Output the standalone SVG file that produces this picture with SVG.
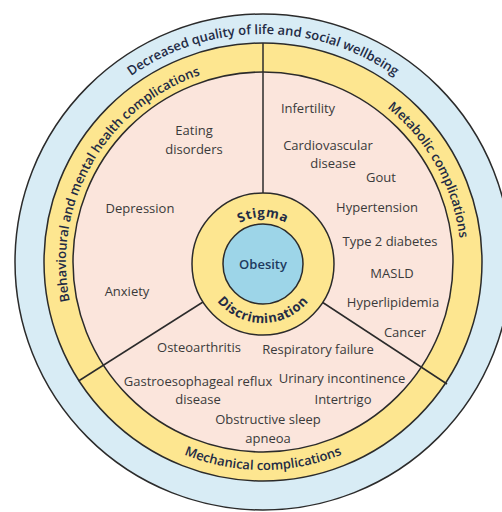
<svg xmlns="http://www.w3.org/2000/svg" width="502" height="512" viewBox="0 0 502 512">
<style>
.edge{stroke:#2b2b2b;stroke-width:1.5}
.lbl{font-family:"Open Sans","Noto Sans",sans-serif;font-size:13px;fill:#3a3a3a;text-anchor:middle}
.band{font-family:"Open Sans","Noto Sans",sans-serif;font-size:13px;font-weight:600;fill:#232b45;text-anchor:middle}
.ring{font-family:"Open Sans","Noto Sans",sans-serif;font-size:13px;font-weight:700;fill:#232b45;text-anchor:middle;letter-spacing:0.6px}
</style>
<defs>
<path id="pOuter" d="M35,262 A228,228 0 0 1 491,262"/>
<path id="pBeh" d="M164,433.47 A198,198 0 0 1 362,90.53"/>
<path id="pMet" d="M167,88.8 A198,198 0 0 1 359,435.2"/>
<path id="pMech" d="M55,262 A208,208 0 0 0 471,262"/>
<path id="pStig" d="M216,264 A47,47 0 0 1 310,264"/>
<path id="pDisc" d="M204,264 A59,59 0 0 0 322,264"/>
</defs>
<rect width="502" height="512" fill="#ffffff"/>
<g id="quality-of-life">
<circle cx="263" cy="262" r="248" fill="#d8ecf5" class="edge"/>
<text class="band"><textPath href="#pOuter" startOffset="50%">Decreased quality of life and social wellbeing</textPath></text>
</g>
<g id="complication-bands">
<circle cx="263" cy="262" r="219" fill="#fde690" class="edge"/>
<circle cx="263" cy="262" r="190" fill="#fbe5dc" class="edge"/>
</g>
<g id="behavioural">
<text class="band"><textPath href="#pBeh" startOffset="50%">Behavioural and mental health complications</textPath></text>
<text class="lbl" x="194" y="135">Eating</text>
<text class="lbl" x="194" y="154">disorders</text>
<text class="lbl" x="140" y="213">Depression</text>
<text class="lbl" x="127" y="296">Anxiety</text>
</g>
<g id="metabolic">
<text class="band"><textPath href="#pMet" startOffset="50%">Metabolic complications</textPath></text>
<text class="lbl" x="308" y="113">Infertility</text>
<text class="lbl" x="328" y="150">Cardiovascular</text>
<text class="lbl" x="333" y="168">disease</text>
<text class="lbl" x="381" y="182">Gout</text>
<text class="lbl" x="377" y="212">Hypertension</text>
<text class="lbl" x="390" y="246">Type 2 diabetes</text>
<text class="lbl" x="392" y="278">MASLD</text>
<text class="lbl" x="393" y="307">Hyperlipidemia</text>
<text class="lbl" x="405" y="337">Cancer</text>
</g>
<g id="mechanical">
<text class="band"><textPath href="#pMech" startOffset="50%">Mechanical complications</textPath></text>
<text class="lbl" x="199" y="352">Osteoarthritis</text>
<text class="lbl" x="318" y="354">Respiratory failure</text>
<text class="lbl" x="198" y="386">Gastroesophageal reflux</text>
<text class="lbl" x="198" y="404">disease</text>
<text class="lbl" x="342" y="383">Urinary incontinence</text>
<text class="lbl" x="343" y="404">Intertrigo</text>
<text class="lbl" x="268" y="424">Obstructive sleep</text>
<text class="lbl" x="268" y="443">apneoa</text>
</g>
<g id="connectors" class="edge" fill="none">
<line x1="263" y1="43" x2="263" y2="193"/>
<line x1="203" y1="302" x2="78.5" y2="381"/>
<line x1="322" y1="302" x2="447" y2="384"/>
</g>
<g id="stigma-discrimination">
<circle cx="263" cy="264" r="71" fill="#fde690" class="edge"/>
<text class="ring"><textPath href="#pStig" startOffset="50%">Stigma</textPath></text>
<text class="ring"><textPath href="#pDisc" startOffset="50%">Discrimination</textPath></text>
</g>
<g id="obesity">
<circle cx="263" cy="264" r="40" fill="#9dd5e8" class="edge"/>
<text x="263" y="269" style="font-family:'Open Sans','Noto Sans',sans-serif;font-size:13px;font-weight:600;fill:#1d3a5f;text-anchor:middle">Obesity</text>
</g>
</svg>
